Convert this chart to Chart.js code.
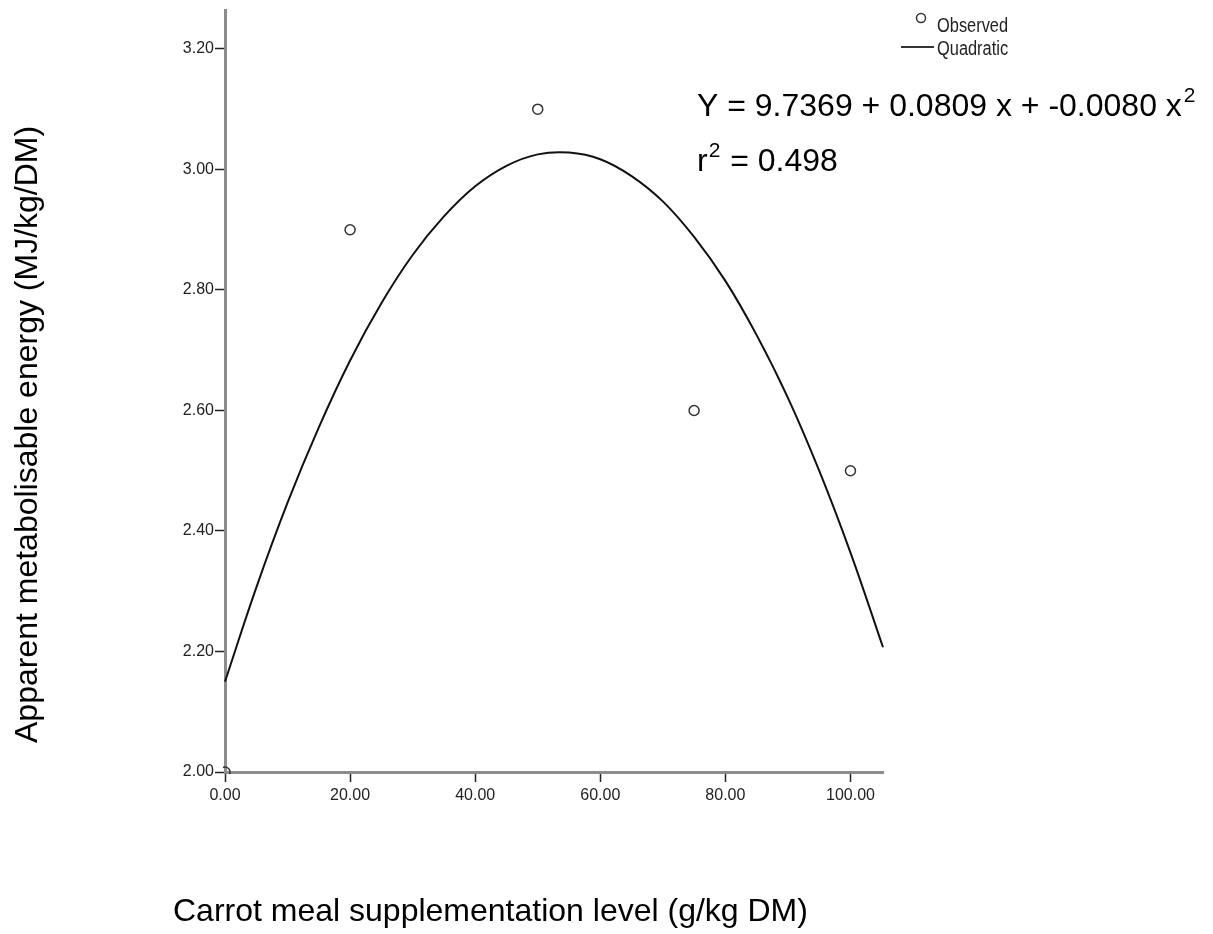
<!DOCTYPE html>
<html>
<head>
<meta charset="utf-8">
<script src="https://cdn.jsdelivr.net/npm/chart.js@4"></script>
<style>
  html, body { margin: 0; padding: 0; background: #fff; }
  #wrap { width: 1213px; height: 934px; }
</style>
</head>
<body>
<div id="wrap"><canvas id="chart" width="1213" height="934"></canvas></div>
<script>
// Observed values (g/kg DM -> MJ/kg/DM)
const obsLevels = [0, 20, 50, 75, 100];
const obsEnergy = [2.00, 2.90, 3.10, 2.60, 2.50];

// Quadratic fit line
const fitLevels = [0, 5, 10, 15, 20, 25, 30, 35, 40, 45, 50, 55, 60, 65, 70, 75, 80, 85, 90, 95, 100, 105.2];
const fitEnergy = [2.150, 2.306, 2.447, 2.572, 2.683, 2.778, 2.858, 2.922, 2.972, 3.006, 3.025, 3.028, 3.017, 2.989, 2.947, 2.888, 2.815, 2.725, 2.621, 2.500, 2.364, 2.207];

const xTicks = [0, 20, 40, 60, 80, 100];
const yTicks = [2.0, 2.2, 2.4, 2.6, 2.8, 3.0, 3.2];

const xTitle = 'Carrot meal supplementation level (g/kg DM)';
const yTitle = 'Apparent metabolisable energy (MJ/kg/DM)';
const eqText = 'Y = 9.7369 + 0.0809 x + -0.0080 x';
const r2Text = ' = 0.498';

const tickFont = { family: '"Liberation Sans", Arial, sans-serif', size: 16 };
const bigFont = '32px "Liberation Sans", Arial, sans-serif';
const supFont = '21px "Liberation Sans", Arial, sans-serif';

// petit plugin pour les titres, l'équation et la légende
const extras = {
    id: 'extras',
    afterDraw(chart) {
        const ctx = chart.ctx;
        ctx.save();
        ctx.fillStyle = '#000';
        ctx.font = bigFont;

        // titre axe Y
        ctx.save();
        ctx.translate(28, 743);
        ctx.rotate(-Math.PI / 2);
        ctx.textAlign = 'left';
        ctx.textBaseline = 'middle';
        ctx.fillText(yTitle, 0, 0);
        ctx.restore();

        // titre axe X
        ctx.textAlign = 'left';
        ctx.textBaseline = 'alphabetic';
        ctx.fillText(xTitle, 173, 921);

        // équation + r²
        ctx.fillText(eqText, 697, 116);
        let w = ctx.measureText(eqText).width;
        ctx.font = supFont;
        ctx.fillText('2', 697 + w + 2, 102);
        ctx.font = bigFont;
        ctx.fillText('r', 697, 171);
        let wr = ctx.measureText('r').width;
        ctx.font = supFont;
        ctx.fillText('2', 697 + wr + 1, 157);
        let w2 = ctx.measureText('2').width;
        ctx.font = bigFont;
        ctx.fillText(r2Text, 697 + wr + w2 + 2, 171);

        // légende (texte un peu condensé, comme SPSS)
        ctx.fillStyle = '#222';
        ctx.strokeStyle = '#333';
        ctx.lineWidth = 1.5;
        ctx.beginPath();
        ctx.arc(921, 18, 4.5, 0, Math.PI * 2);
        ctx.stroke();
        ctx.lineWidth = 2;
        ctx.beginPath();
        ctx.moveTo(901, 47);
        ctx.lineTo(934, 47);
        ctx.stroke();

        ctx.save();
        ctx.translate(937, 0);
        ctx.scale(0.82, 1);
        ctx.font = '20px "Liberation Sans", Arial, sans-serif';
        ctx.textBaseline = 'alphabetic';
        ctx.fillText('Observed', 0, 32);
        ctx.fillText('Quadratic', 0, 55);
        ctx.restore();
        ctx.restore();
    }
};

new Chart(document.getElementById('chart'), {
    type: 'scatter',
    data: {
        datasets: [{
            label: 'Observed',
            data: obsLevels.map((x, i) => ({ x: x, y: obsEnergy[i] })),
            pointStyle: 'circle',
            pointRadius: 5,
            pointBorderWidth: 1.5,
            pointBorderColor: '#333',
            pointBackgroundColor: 'rgba(255,255,255,0)',
            showLine: false,
            clip: 2
        }, {
            label: 'Quadratic',
            data: fitLevels.map((x, i) => ({ x: x, y: fitEnergy[i] })),
            showLine: true,
            borderColor: '#111',
            borderWidth: 2,
            pointRadius: 0,
            tension: 0.4,
            clip: 2
        }]
    },
    options: {
        responsive: false,
        animation: false,
        layout: { padding: { left: 0, right: 330, top: 8, bottom: 0 } },
        plugins: {
            legend: { display: false },
            tooltip: { enabled: false }
        },
        scales: {
            x: {
                type: 'linear',
                min: 0,
                max: 105.2,
                afterFit: s => { s.height = 934 - 772; },
                afterBuildTicks: s => { s.ticks = xTicks.map(v => ({ value: v })); },
                ticks: {
                    font: tickFont,
                    color: '#222',
                    padding: 4,
                    maxRotation: 0,
                    callback: v => Number(v).toFixed(2)
                },
                grid: { drawOnChartArea: false, drawTicks: true, tickLength: 10, tickColor: '#222', tickWidth: 1.5 },
                border: { display: true, color: '#8c8c8c', width: 3 }
            },
            y: {
                type: 'linear',
                min: 2.0,
                max: 3.2636,
                afterFit: s => { s.width = 225; },
                afterBuildTicks: s => { s.ticks = yTicks.map(v => ({ value: v })); },
                ticks: {
                    font: tickFont,
                    color: '#222',
                    padding: 1,
                    callback: v => Number(v).toFixed(2)
                },
                grid: { drawOnChartArea: false, drawTicks: true, tickLength: 10, tickColor: '#222', tickWidth: 1.5 },
                border: { display: true, color: '#8c8c8c', width: 3 }
            }
        }
    },
    plugins: [extras]
});
</script>
</body>
</html>
